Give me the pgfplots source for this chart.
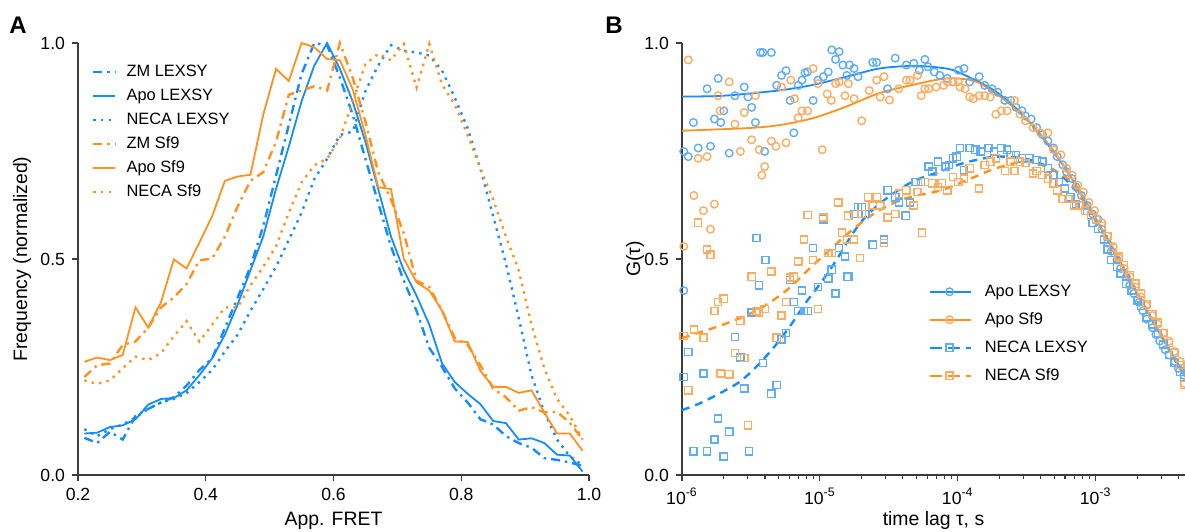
\documentclass[border=0pt]{standalone}
\usepackage{pgfplots}
\usepackage{pgfplotstable}
\pgfplotsset{compat=1.18}
\usepackage{fontspec}
\setmainfont{Liberation Sans}
\definecolor{cblue}{RGB}{20,140,255}
\definecolor{corange}{RGB}{255,145,30}
\definecolor{cblueL}{RGB}{95,172,248}
\definecolor{corangeL}{RGB}{255,172,95}
\definecolor{axgray}{RGB}{60,60,60}

\pgfplotstableread{
x zmL apoL necaL zmS apoS necaS
0.21 0.086 0.096 0.106 0.227 0.262 0.219
0.23 0.074 0.098 0.090 0.254 0.272 0.211
0.25 0.100 0.111 0.106 0.258 0.266 0.219
0.27 0.082 0.115 0.117 0.301 0.278 0.247
0.29 0.137 0.129 0.133 0.309 0.388 0.274
0.31 0.153 0.163 0.153 0.341 0.341 0.266
0.33 0.168 0.176 0.168 0.388 0.400 0.282
0.35 0.180 0.178 0.176 0.411 0.499 0.321
0.37 0.207 0.196 0.190 0.442 0.478 0.356
0.39 0.243 0.231 0.215 0.497 0.538 0.309
0.41 0.270 0.270 0.243 0.501 0.599 0.348
0.43 0.340 0.325 0.286 0.552 0.681 0.388
0.45 0.411 0.395 0.325 0.622 0.691 0.388
0.47 0.482 0.474 0.380 0.681 0.695 0.439
0.49 0.576 0.552 0.430 0.701 0.834 0.482
0.51 0.693 0.662 0.482 0.771 0.940 0.529
0.53 0.810 0.760 0.544 0.880 0.912 0.607
0.55 0.928 0.865 0.607 0.890 1.000 0.677
0.57 1.000 0.948 0.685 0.900 0.990 0.717
0.59 0.995 1.000 0.732 0.890 0.963 0.732
0.61 0.920 0.940 0.787 1.000 0.960 0.779
0.63 0.834 0.865 0.795 0.920 0.893 0.865
0.65 0.732 0.771 0.889 0.818 0.787 0.951
0.67 0.630 0.662 0.948 0.701 0.666 0.975
0.69 0.529 0.552 0.995 0.638 0.662 0.960
0.71 0.450 0.474 0.982 0.560 0.501 0.998
0.73 0.380 0.415 0.978 0.450 0.446 0.897
0.75 0.294 0.348 0.971 0.435 0.427 0.998
0.77 0.250 0.258 0.936 0.380 0.380 0.904
0.79 0.200 0.215 0.873 0.317 0.309 0.857
0.81 0.168 0.188 0.803 0.301 0.308 0.787
0.83 0.129 0.164 0.709 0.254 0.241 0.709
0.85 0.117 0.125 0.599 0.200 0.204 0.638
0.87 0.090 0.120 0.489 0.180 0.204 0.552
0.89 0.074 0.082 0.364 0.149 0.190 0.474
0.91 0.063 0.085 0.231 0.157 0.196 0.348
0.93 0.039 0.074 0.145 0.145 0.145 0.247
0.95 0.035 0.047 0.082 0.146 0.096 0.176
0.97 0.029 0.045 0.043 0.121 0.096 0.137
0.99 0.021 0.008 0.023 0.082 0.056 0.082
}\histdata

\pgfplotstableread{
t g
1.03e-6 0.427
1.03e-6 0.749
1.11e-6 0.737
1.21e-6 0.816
1.31e-6 0.757
1.52e-6 0.894
1.61e-6 0.761
1.72e-6 0.824
1.83e-6 0.918
1.91e-6 0.816
2.01e-6 0.843
2.20e-6 0.745
2.42e-6 0.878
2.83e-6 0.898
3.01e-6 0.875
3.20e-6 0.851
3.41e-6 0.816
3.70e-6 0.978
3.86e-6 0.978
3.98e-6 0.749
4.45e-6 0.978
4.86e-6 0.902
5.27e-6 0.925
5.68e-6 0.936
6.08e-6 0.867
6.47e-6 0.792
6.97e-6 0.902
7.42e-6 0.914
7.80e-6 0.931
8.15e-6 0.933
8.94e-6 0.867
9.69e-6 0.914
1.06e-5 0.922
1.15e-5 0.933
1.22e-5 0.984
1.30e-5 0.962
1.38e-5 0.980
1.47e-5 0.949
1.57e-5 0.925
1.64e-5 0.949
1.77e-5 0.941
1.89e-5 0.922
2.42e-5 0.955
2.58e-5 0.955
3.10e-5 0.894
3.52e-5 0.965
4.24e-5 0.949
4.80e-5 0.953
5.27e-5 0.937
5.78e-5 0.962
6.08e-5 0.945
6.76e-5 0.933
7.42e-5 0.925
8.40e-5 0.918
9.23e-5 0.910
1.01e-4 0.937
1.11e-4 0.941
1.22e-4 0.910
1.43e-4 0.922
1.57e-4 0.902
1.77e-4 0.894
1.95e-4 0.886
2.20e-4 0.867
2.42e-4 0.867
2.65e-4 0.851
2.92e-4 0.843
3.10e-4 0.831
3.41e-4 0.824
3.74e-4 0.804
4.11e-4 0.788
4.51e-4 0.773
4.95e-4 0.757
5.27e-4 0.737
5.78e-4 0.718
6.15e-4 0.702
6.76e-4 0.686
7.19e-4 0.667
7.89e-4 0.647
8.67e-4 0.624
9.51e-4 0.604
1.04e-3 0.592
1.11e-3 0.569
1.22e-3 0.537
1.30e-3 0.518
1.43e-3 0.498
1.52e-3 0.478
1.67e-3 0.459
1.77e-3 0.439
1.89e-3 0.420
2.07e-3 0.400
2.20e-3 0.380
2.34e-3 0.361
2.58e-3 0.341
2.74e-3 0.325
2.92e-3 0.310
3.20e-3 0.290
3.41e-3 0.278
3.74e-3 0.263
3.98e-3 0.247
4.37e-3 0.231
}\apoL

\pgfplotstableread{
t g
1.03e-6 0.529
1.11e-6 0.961
1.22e-6 0.647
1.31e-6 0.733
1.43e-6 0.612
1.52e-6 0.737
1.61e-6 0.569
1.72e-6 0.627
1.83e-6 0.878
1.89e-6 0.843
2.20e-6 0.910
2.42e-6 0.812
2.65e-6 0.749
2.83e-6 0.839
3.20e-6 0.776
3.41e-6 0.878
3.63e-6 0.753
3.79e-6 0.694
3.98e-6 0.714
4.45e-6 0.773
4.80e-6 0.761
5.27e-6 0.898
5.68e-6 0.769
6.15e-6 0.914
6.55e-6 0.871
6.97e-6 0.827
7.42e-6 0.843
8.15e-6 0.843
8.94e-6 0.941
9.69e-6 0.906
1.04e-5 0.753
1.13e-5 0.882
1.21e-5 0.867
1.30e-5 0.906
1.38e-5 0.910
1.52e-5 0.878
1.61e-5 0.906
1.77e-5 0.871
2.01e-5 0.820
2.28e-5 0.890
2.58e-5 0.914
2.74e-5 0.875
2.92e-5 0.922
3.20e-5 0.868
3.74e-5 0.894
4.24e-5 0.914
4.51e-5 0.914
5.11e-5 0.925
5.43e-5 0.878
5.78e-5 0.894
6.15e-5 0.894
6.97e-5 0.898
7.89e-5 0.902
8.40e-5 0.910
9.23e-5 0.910
1.01e-4 0.910
1.04e-4 0.898
1.13e-4 0.894
1.22e-4 0.875
1.30e-4 0.871
1.43e-4 0.878
1.57e-4 0.878
1.72e-4 0.875
1.89e-4 0.835
2.07e-4 0.843
2.28e-4 0.843
2.58e-4 0.867
2.83e-4 0.835
3.10e-4 0.820
3.52e-4 0.804
3.98e-4 0.792
4.51e-4 0.792
4.95e-4 0.753
5.61e-4 0.741
6.15e-4 0.710
6.76e-4 0.694
7.42e-4 0.671
8.15e-4 0.655
8.94e-4 0.631
9.82e-4 0.612
1.11e-3 0.584
1.22e-3 0.553
1.34e-3 0.529
1.47e-3 0.502
1.61e-3 0.478
1.77e-3 0.459
1.95e-3 0.435
2.14e-3 0.412
2.34e-3 0.392
2.58e-3 0.369
2.83e-3 0.349
3.10e-3 0.329
3.41e-3 0.310
3.74e-3 0.286
4.11e-3 0.263
4.40e-3 0.212
}\apoS

\pgfplotstableread{
t g
1.03e-6 0.227
1.11e-6 0.285
1.21e-6 0.055
1.43e-6 0.235
1.52e-6 0.055
1.72e-6 0.082
1.83e-6 0.131
2.01e-6 0.043
2.20e-6 0.100
2.42e-6 0.319
2.65e-6 0.272
2.83e-6 0.200
3.06e-6 0.055
3.20e-6 0.376
3.47e-6 0.549
3.63e-6 0.439
3.86e-6 0.259
4.03e-6 0.498
4.45e-6 0.188
4.86e-6 0.208
5.27e-6 0.314
5.68e-6 0.329
6.08e-6 0.451
6.47e-6 0.400
6.97e-6 0.380
7.42e-6 0.427
7.65e-6 0.380
8.15e-6 0.380
8.94e-6 0.525
9.69e-6 0.435
1.06e-5 0.592
1.15e-5 0.455
1.22e-5 0.475
1.30e-5 0.420
1.38e-5 0.525
1.52e-5 0.506
1.57e-5 0.459
1.61e-5 0.459
1.77e-5 0.604
1.89e-5 0.620
2.01e-5 0.620
2.14e-5 0.604
2.42e-5 0.533
2.58e-5 0.643
2.92e-5 0.545
3.10e-5 0.659
3.52e-5 0.643
3.74e-5 0.631
4.19e-5 0.600
4.51e-5 0.631
4.95e-5 0.678
5.43e-5 0.678
6.15e-5 0.714
6.55e-5 0.702
7.19e-5 0.725
8.15e-5 0.714
8.67e-5 0.718
9.23e-5 0.733
9.82e-5 0.737
1.04e-4 0.757
1.11e-4 0.706
1.22e-4 0.757
1.34e-4 0.753
1.47e-4 0.749
1.67e-4 0.757
1.83e-4 0.749
2.07e-4 0.757
2.28e-4 0.753
2.42e-4 0.741
2.65e-4 0.741
2.92e-4 0.733
3.30e-4 0.733
3.74e-4 0.729
4.11e-4 0.725
4.51e-4 0.710
4.95e-4 0.694
5.43e-4 0.678
5.97e-4 0.663
6.55e-4 0.643
7.19e-4 0.627
7.89e-4 0.624
8.67e-4 0.612
9.51e-4 0.584
1.04e-3 0.569
1.15e-3 0.545
1.22e-3 0.522
1.30e-3 0.498
1.43e-3 0.482
1.52e-3 0.467
1.67e-3 0.443
1.83e-3 0.427
2.01e-3 0.404
2.14e-3 0.392
2.34e-3 0.365
2.58e-3 0.349
2.83e-3 0.329
3.10e-3 0.302
3.41e-3 0.278
3.74e-3 0.259
4.11e-3 0.239
4.40e-3 0.227
}\necaL

\pgfplotstableread{
t g
1.03e-6 0.322
1.11e-6 0.196
1.22e-6 0.337
1.31e-6 0.584
1.43e-6 0.318
1.52e-6 0.522
1.61e-6 0.510
1.72e-6 0.380
1.83e-6 0.400
1.91e-6 0.235
2.01e-6 0.408
2.20e-6 0.233
2.42e-6 0.282
2.65e-6 0.357
2.83e-6 0.271
3.01e-6 0.115
3.20e-6 0.459
3.47e-6 0.380
3.63e-6 0.376
3.98e-6 0.384
4.45e-6 0.471
4.86e-6 0.318
5.27e-6 0.369
5.68e-6 0.400
6.08e-6 0.457
6.47e-6 0.459
6.97e-6 0.494
7.65e-6 0.545
8.15e-6 0.602
8.94e-6 0.498
9.69e-6 0.384
1.06e-5 0.596
1.15e-5 0.514
1.22e-5 0.514
1.36e-5 0.631
1.45e-5 0.561
1.57e-5 0.545
1.61e-5 0.600
1.77e-5 0.545
1.95e-5 0.502
2.01e-5 0.604
2.24e-5 0.643
2.42e-5 0.624
2.58e-5 0.643
2.74e-5 0.624
2.92e-5 0.537
3.10e-5 0.596
3.52e-5 0.604
3.74e-5 0.651
4.24e-5 0.659
4.80e-5 0.624
5.11e-5 0.655
5.51e-5 0.561
5.78e-5 0.678
6.55e-5 0.675
7.19e-5 0.667
7.65e-5 0.675
8.40e-5 0.659
9.23e-5 0.690
1.01e-4 0.678
1.11e-4 0.686
1.22e-4 0.710
1.43e-4 0.663
1.57e-4 0.718
1.72e-4 0.725
1.89e-4 0.733
2.20e-4 0.704
2.42e-4 0.725
2.58e-4 0.704
2.83e-4 0.725
3.10e-4 0.722
3.52e-4 0.698
3.74e-4 0.704
4.11e-4 0.694
4.51e-4 0.686
4.95e-4 0.675
5.27e-4 0.659
5.78e-4 0.639
6.35e-4 0.639
6.97e-4 0.624
7.65e-4 0.624
8.40e-4 0.612
9.23e-4 0.600
1.01e-3 0.592
1.11e-3 0.576
1.22e-3 0.553
1.34e-3 0.525
1.47e-3 0.506
1.61e-3 0.486
1.77e-3 0.463
1.95e-3 0.443
2.14e-3 0.420
2.34e-3 0.396
2.58e-3 0.373
2.83e-3 0.353
3.10e-3 0.329
3.41e-3 0.306
3.74e-3 0.282
4.11e-3 0.255
4.40e-3 0.208
}\necaS

\begin{document}
\begin{tikzpicture}
\useasboundingbox (0pt,0pt) rectangle (592.5pt,265.5pt);
\pgfplotsset{
  every axis/.append style={
    scale only axis,
    axis lines=left,
    axis line style={-, line width=0.6pt, draw=axgray},
    tick align=outside,
    tick style={line width=0.6pt, draw=axgray},
    major tick length=3pt,
    minor tick length=2.2pt,
    ticklabel style={font=\fontsize{8.8}{10}\selectfont},
    label style={font=\fontsize{9.7}{11}\selectfont},
    ymin=0, ymax=1,
    ytick={0,0.5,1}, yticklabels={0.0,0.5,1.0},
    clip=false,
    xlabel style={at={(axis description cs:0.5,-0.118)}, anchor=base},
  },
}
% ---------------- Panel A ----------------
\begin{axis}[
  at={(39pt,28pt)}, anchor=south west,
  width=255.5pt, height=216pt,
  xmin=0.2, xmax=1.0,
  xtick={0.2,0.4,0.6,0.8,1.0}, xticklabels={0.2,0.4,0.6,0.8,1.0},
  xlabel={App. FRET},
  ylabel={Frequency (normalized)},
  ylabel style={at={(axis description cs:-0.1096,0.5)}, anchor=center},
  legend image code/.code={\draw[#1] (0pt,0pt) -- (11pt,0pt);},
  legend style={at={(axis description cs:0.027,0.794)}, anchor=west,
    draw=none, fill=none, inner sep=0pt, row sep=4.5pt,
    font=\fontsize{8.2}{9.5}\selectfont,
    nodes={inner sep=0pt, text height=6pt, text depth=1.5pt},
    /tikz/every odd column/.append style={column sep=5pt}},
  legend cell align=left,
]
\addplot[cblue, line width=1.2pt, dash pattern=on 4.5pt off 2.5pt on 1.2pt off 2.5pt] table[x=x,y=zmL] {\histdata};
\addlegendentry{ZM LEXSY}
\addplot[cblue, line width=0.9pt] table[x=x,y=apoL] {\histdata};
\addlegendentry{Apo LEXSY}
\addplot[cblue, line width=1.2pt, dash pattern=on 1.2pt off 2.6pt] table[x=x,y=necaL] {\histdata};
\addlegendentry{NECA LEXSY}
\addplot[corange, line width=1.2pt, dash pattern=on 4.5pt off 2.5pt on 1.2pt off 2.5pt] table[x=x,y=zmS] {\histdata};
\addlegendentry{ZM Sf9}
\addplot[corange, line width=0.9pt] table[x=x,y=apoS] {\histdata};
\addlegendentry{Apo Sf9}
\addplot[corange, line width=1.2pt, dash pattern=on 1.2pt off 2.6pt] table[x=x,y=necaS] {\histdata};
\addlegendentry{NECA Sf9}
\end{axis}
% ---------------- Panel B ----------------
\begin{axis}[
  at={(341pt,28pt)}, anchor=south west,
  width=251.5pt, height=216pt,
  xmode=log, xmin=1e-6, xmax=4.45e-3,
  xtick={1e-6,1e-5,1e-4,1e-3},
  xticklabels={10\textsuperscript{-6},10\textsuperscript{-5},10\textsuperscript{-4},10\textsuperscript{-3}},
  minor xtick={2e-6,3e-6,4e-6,5e-6,6e-6,7e-6,8e-6,9e-6,2e-5,3e-5,4e-5,5e-5,6e-5,7e-5,8e-5,9e-5,2e-4,3e-4,4e-4,5e-4,6e-4,7e-4,8e-4,9e-4,2e-3,3e-3,4e-3},
  xlabel={time lag τ, s},
  ylabel={G(τ)},
  ylabel style={at={(axis description cs:-0.0934,0.5)}, anchor=center},
  legend image code/.code={\draw[mark repeat=2, mark phase=2, #1] plot coordinates {(0pt,0pt) (10pt,0pt) (20.5pt,0pt)};},
  legend style={at={(axis description cs:0.489,0.327)}, anchor=west,
    draw=none, fill=none, inner sep=0pt, row sep=6.5pt,
    font=\fontsize{8.2}{9.5}\selectfont,
    nodes={inner sep=0pt, text height=6pt, text depth=1.5pt},
    /tikz/every odd column/.append style={column sep=6.5pt}},
  legend cell align=left,
]
\addplot[only marks, mark=o, mark size=1.9pt, mark options={draw=cblueL, line width=0.7pt}, forget plot] table[x=t,y=g] {\apoL};
\addplot[only marks, mark=o, mark size=1.9pt, mark options={draw=corangeL, line width=0.7pt}, forget plot] table[x=t,y=g] {\apoS};
\addplot[only marks, mark=square, mark size=1.8pt, mark options={draw=cblueL, line width=0.7pt}, forget plot] table[x=t,y=g] {\necaL};
\addplot[only marks, mark=square, mark size=1.8pt, mark options={draw=corangeL, line width=0.7pt}, forget plot] table[x=t,y=g] {\necaS};
% fits
\addplot[cblue, line width=0.9pt, smooth, forget plot] coordinates {(1e-6,0.876)(2e-6,0.878)(5e-6,0.890)(8.9e-6,0.903)(1.56e-5,0.922)(2.7e-5,0.941)(4.7e-5,0.947)(7.4e-5,0.943)(1e-4,0.933)(1.9e-4,0.887)(3.3e-4,0.818)(5.8e-4,0.718)(7.6e-4,0.656)(1e-3,0.592)(1.4e-3,0.510)(1.77e-3,0.452)(2.4e-3,0.375)(3.1e-3,0.315)(3.7e-3,0.270)(4.45e-3,0.228)};
\addplot[corange, line width=0.9pt, smooth, forget plot] coordinates {(1e-6,0.797)(3e-6,0.803)(5.1e-6,0.810)(8.9e-6,0.826)(1.56e-5,0.853)(2.7e-5,0.884)(4.7e-5,0.903)(7.4e-5,0.916)(1e-4,0.918)(1.44e-4,0.907)(2.5e-4,0.853)(4.4e-4,0.772)(7.6e-4,0.660)(1e-3,0.595)(1.4e-3,0.512)(1.77e-3,0.454)(2.4e-3,0.377)(3.1e-3,0.317)(3.7e-3,0.272)(4.45e-3,0.228)};
\addplot[cblue, line width=1.2pt, dash pattern=on 4pt off 3pt, smooth, forget plot] coordinates {(1e-6,0.150)(1.35e-6,0.166)(1.88e-6,0.189)(2.63e-6,0.216)(3.47e-6,0.251)(4.57e-6,0.293)(6.03e-6,0.343)(8e-6,0.401)(1.05e-5,0.451)(1.32e-5,0.498)(1.74e-5,0.560)(2.18e-5,0.600)(3.03e-5,0.640)(4.7e-5,0.679)(7.4e-5,0.702)(1.1e-4,0.722)(1.9e-4,0.737)(3.3e-4,0.730)(5.2e-4,0.702)(7.6e-4,0.650)(1e-3,0.592)(1.4e-3,0.510)(1.77e-3,0.452)(2.4e-3,0.375)(3.1e-3,0.315)(3.7e-3,0.270)(4.45e-3,0.228)};
\addplot[corange, line width=1.2pt, dash pattern=on 4pt off 3pt, smooth, forget plot] coordinates {(1e-6,0.317)(1.68e-6,0.340)(2.63e-6,0.363)(3.86e-6,0.389)(5.76e-6,0.428)(8.5e-6,0.479)(1.15e-5,0.518)(1.74e-5,0.569)(2.7e-5,0.613)(4.25e-5,0.641)(7.4e-5,0.658)(1.1e-4,0.679)(1.9e-4,0.710)(3.3e-4,0.725)(5.8e-4,0.694)(7.6e-4,0.650)(1e-3,0.594)(1.4e-3,0.512)(1.77e-3,0.454)(2.4e-3,0.377)(3.1e-3,0.317)(3.7e-3,0.272)(4.45e-3,0.228)};
\addlegendimage{cblue, line width=0.9pt, mark=o, mark size=1.9pt, mark options={solid, draw=cblueL, line width=0.7pt}}
\addlegendentry{Apo LEXSY}
\addlegendimage{corange, line width=0.9pt, mark=o, mark size=1.9pt, mark options={solid, draw=corangeL, line width=0.7pt}}
\addlegendentry{Apo Sf9}
\addlegendimage{cblue, line width=1.2pt, dash pattern=on 6pt off 3pt, mark=square, mark size=1.8pt, mark options={solid, draw=cblueL, fill=white, line width=0.7pt}}
\addlegendentry{NECA LEXSY}
\addlegendimage{corange, line width=1.2pt, dash pattern=on 6pt off 3pt, mark=square, mark size=1.8pt, mark options={solid, draw=corangeL, fill=white, line width=0.7pt}}
\addlegendentry{NECA Sf9}
\end{axis}
\node[font=\bfseries\fontsize{12}{14}\selectfont] at (9pt,253pt) {A};
\node[font=\bfseries\fontsize{12}{14}\selectfont] at (307pt,253pt) {B};
\end{tikzpicture}
\end{document}
